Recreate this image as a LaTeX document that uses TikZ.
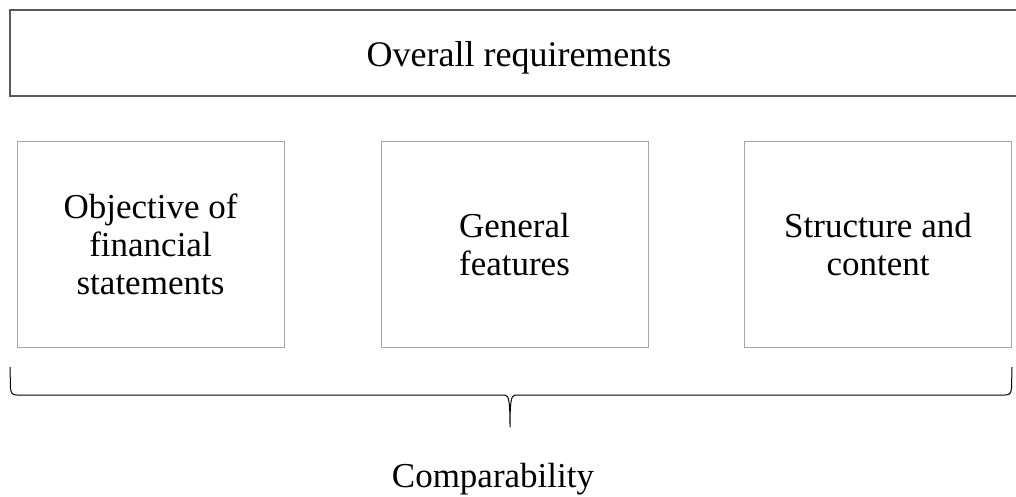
\documentclass[tikz,border=0pt]{standalone}
\usepackage{fontspec}
\setmainfont{Liberation Serif}
\begin{document}
\begin{tikzpicture}[x=1pt,y=1pt,
  every node/.style={inner sep=0pt, outer sep=0pt},
  label text/.style={font=\fontsize{35}{38}\selectfont, align=center, text=black},
  topbox/.style={draw=black!65, line width=1.5pt, anchor=north west},
  itembox/.style={draw=black!35, line width=1pt, minimum width=267pt, minimum height=206pt, label text},
  bracepen/.style={draw=black, line width=1pt, line join=round}
]
\useasboundingbox (0,0) rectangle (1016,-496);
\clip (0,0) rectangle (1016,-496);

% heading bar, open towards the right edge
\node[topbox, minimum width=1030pt, minimum height=86pt] (top) at (10,-10) {};
\node[label text, font=\fontsize{36}{38}\selectfont, anchor=base] (toptext) at (519,-66) {Overall requirements};

% the three component boxes
\node[itembox] (obj) at (150.5,-244.5) {Objective of\\financial\\statements};
\node[itembox] (gen) at (514.5,-244.5) {General\\features};
\node[itembox] (str) at (878,-244.5) {Structure and\\content};

% brace gathering the three boxes
\coordinate (bl) at (10,-367);
\coordinate (br) at (1012,-367);
\coordinate (tip) at (510,-427);
\path[bracepen] (bl) -- (10.5,-388) .. controls (11,-393) and (12,-395) .. (17,-395)
  -- (505,-395) .. controls (509,-395) and (510,-403) .. (tip)
  .. controls (510,-403) and (511,-395) .. (515,-395)
  -- (1005,-395) .. controls (1010,-395) and (1011,-393) .. (1011.5,-388) -- (br);

\node[label text, anchor=base] (comp) at (493,-487) {Comparability};
\end{tikzpicture}
\end{document}
